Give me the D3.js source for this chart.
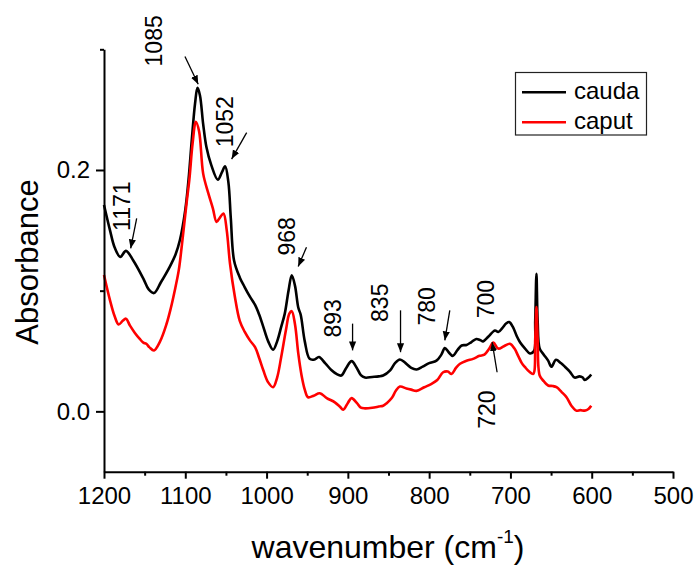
<!DOCTYPE html>
<html>
<head>
<meta charset="utf-8">
<script src="https://cdn.jsdelivr.net/npm/d3@7"></script>
<style>
  body { margin: 0; background: #fff; }
  svg text { font-family: "Liberation Sans", Arial, sans-serif; fill: #000; }
  .axis path, .axis line { stroke: #000; stroke-width: 2; }
</style>
</head>
<body>
<div id="chart"></div>
<script>
// wavenumber (cm-1) and absorbance
var caudaWn = [1200, 1192.6, 1187, 1180, 1173, 1164, 1151.6, 1145, 1138.5, 1130, 1119, 1112, 1106.6, 1100, 1096, 1092, 1088, 1085, 1082, 1078, 1074, 1068, 1060, 1055, 1051, 1047, 1044, 1040, 1033, 1027, 1020.5, 1014, 1009, 1004, 998, 992, 987, 982, 977.6, 973, 969, 965, 961, 958, 953, 947, 941, 935.6, 928, 920, 914, 908, 902, 895.4, 889, 884, 879, 870, 862, 856.6, 848, 842, 836, 829, 822, 815.5, 808, 800, 791, 785, 780.7, 776, 771, 765, 760, 754, 748, 742, 737, 733.6, 727, 719, 715, 710, 705, 701.5, 697, 692, 688, 682, 676, 671, 669.5, 668, 666.5, 664, 659, 653.6, 649.6, 644, 638, 633, 627, 621, 615, 611, 608.6, 604, 600.6];
var caudaAbs = [0.171, 0.150, 0.136, 0.128, 0.133, 0.125, 0.110, 0.101, 0.098, 0.107, 0.120, 0.130, 0.142, 0.167, 0.192, 0.225, 0.255, 0.268, 0.262, 0.238, 0.219, 0.204, 0.192, 0.198, 0.203, 0.190, 0.160, 0.125, 0.111, 0.103, 0.095, 0.088, 0.080, 0.070, 0.058, 0.051, 0.058, 0.070, 0.081, 0.100, 0.1128, 0.104, 0.086, 0.080, 0.058, 0.0435, 0.043, 0.045, 0.040, 0.034, 0.031, 0.0297, 0.036, 0.0416, 0.036, 0.030, 0.028, 0.0285, 0.029, 0.0297, 0.034, 0.040, 0.043, 0.040, 0.036, 0.0347, 0.037, 0.040, 0.042, 0.047, 0.0524, 0.049, 0.046, 0.051, 0.0546, 0.055, 0.0574, 0.060, 0.059, 0.058, 0.062, 0.067, 0.0657, 0.069, 0.073, 0.074, 0.070, 0.062, 0.057, 0.052, 0.048, 0.050, 0.075, 0.114, 0.075, 0.052, 0.047, 0.042, 0.037, 0.0427, 0.040, 0.037, 0.033, 0.028, 0.029, 0.028, 0.026, 0.028, 0.0305];

var caputWn = [1200, 1192.6, 1187, 1182, 1177, 1173, 1168, 1162, 1156, 1151.6, 1148, 1144, 1138.5, 1131, 1123, 1118, 1113, 1108, 1104.5, 1098, 1095, 1091, 1087, 1083, 1078, 1071.8, 1066, 1061.5, 1057, 1053, 1049, 1045, 1039, 1033, 1027, 1020.5, 1014, 1009, 1004, 998, 992, 987, 982, 976, 972, 969, 965, 961, 957, 953, 949, 942, 934.5, 926, 916, 910, 905.7, 900, 895.4, 889, 884, 879, 870, 862, 856.6, 852.5, 846, 841, 836, 828, 822, 815.5, 806, 797, 790, 782.8, 777, 772.5, 767, 762, 754, 746, 738, 732, 726, 721, 715, 708, 700.6, 695, 690.5, 686, 682, 677, 672, 669.5, 668, 666.5, 664, 659, 653.6, 648, 643.3, 637, 631, 625, 619, 614, 608.6, 604, 600.6];
var caputAbs = [0.113, 0.092, 0.079, 0.072, 0.075, 0.0768, 0.071, 0.065, 0.060, 0.057, 0.056, 0.053, 0.0505, 0.058, 0.0726, 0.085, 0.100, 0.117, 0.136, 0.175, 0.192, 0.222, 0.240, 0.232, 0.197, 0.181, 0.168, 0.157, 0.161, 0.164, 0.150, 0.1225, 0.095, 0.075, 0.066, 0.0588, 0.053, 0.044, 0.034, 0.024, 0.020, 0.028, 0.045, 0.068, 0.081, 0.083, 0.072, 0.048, 0.030, 0.018, 0.0117, 0.013, 0.015, 0.011, 0.0075, 0.004, 0.0014, 0.007, 0.011, 0.007, 0.003, 0.0025, 0.003, 0.004, 0.0047, 0.0066, 0.011, 0.017, 0.0205, 0.019, 0.018, 0.017, 0.020, 0.0228, 0.026, 0.0324, 0.033, 0.031, 0.036, 0.0394, 0.042, 0.0435, 0.046, 0.047, 0.052, 0.057, 0.052, 0.054, 0.056, 0.052, 0.046, 0.040, 0.0366, 0.033, 0.031, 0.060, 0.0865, 0.060, 0.0297, 0.025, 0.0214, 0.021, 0.020, 0.016, 0.0117, 0.0047, 0.0006, 0.001, 0.0006, 0.002, 0.0047];

var seriesNames = ["cauda", "caput"];
var seriesColors = ["#000000", "#ff0000"];

var xMajorTicks = [1200, 1100, 1000, 900, 800, 700, 600, 500];
var xMinorTicks = [1150, 1050, 950, 850, 750, 650, 550];
var yMajorTicks = [0.0, 0.2];
var yMinorTicks = [0.1, 0.3];

// peak labels (wavenumber, absorbance of the label centre) and their arrows
var peakLabels = ["1085", "1052", "1171", "968", "893", "835", "780", "700", "720"];
var labelWn = [1138.5, 1051.2, 1178.2, 975, 919, 860.6, 803.2, 730.5, 729.5];
var labelAbs = [0.307, 0.240, 0.170, 0.145, 0.077, 0.090, 0.087, 0.093, 0.0014];
var arrowFromWn = [1100.4, 1024.5, 1159.8, 950.9, 894.2, 835.2, 774.6, 716.4];
var arrowFromAbs = [0.294, 0.231, 0.160, 0.136, 0.0727, 0.0837, 0.0837, 0.0324];
var arrowToWn = [1084.1, 1043, 1167.2, 961.1, 894.2, 835.2, 780.7, 722.5];
var arrowToAbs = [0.271, 0.209, 0.135, 0.120, 0.0505, 0.049, 0.0588, 0.0574];

function drawGraph() {
    var width = 695, height = 565;
    var margin = { top: 49.3, right: 22, bottom: 93.3, left: 104 };

    var svg = d3.select("#chart")
        .append("svg")
        .attr("width", width)
        .attr("height", height);

    var x = d3.scaleLinear()
        .domain([1200, 500])
        .range([margin.left, width - margin.right]);

    var y = d3.scaleLinear()
        .domain([-0.05, 0.3])
        .range([height - margin.bottom, margin.top]);

    var series = [
        caudaWn.map((w, i) => ({ wn: w, abs: caudaAbs[i] })),
        caputWn.map((w, i) => ({ wn: w, abs: caputAbs[i] }))
    ];

    var line = d3.line()
        .x(d => x(d.wn))
        .y(d => y(d.abs))
        .curve(d3.curveCatmullRom.alpha(0.5));

    // black first, red drawn over it
    series.forEach((s, i) => {
        svg.append("path")
            .datum(s)
            .attr("fill", "none")
            .attr("stroke", seriesColors[i])
            .attr("stroke-width", 2.6)
            .attr("stroke-linejoin", "round")
            .attr("d", line);
    });

    // axes
    var xAxis = svg.append("g")
        .attr("class", "axis")
        .attr("transform", `translate(0,${y(-0.05)})`)
        .call(d3.axisBottom(x).tickValues(xMajorTicks).tickSize(7).tickSizeOuter(0).tickPadding(8).tickFormat(d3.format("d")));
    xAxis.selectAll("text").attr("font-size", "24px");

    svg.append("g")
        .attr("class", "axis")
        .attr("transform", `translate(0,${y(-0.05)})`)
        .call(d3.axisBottom(x).tickValues(xMinorTicks).tickSize(4).tickFormat(""))
        .select(".domain").remove();

    var yAxis = svg.append("g")
        .attr("class", "axis")
        .attr("transform", `translate(${x(1200)},0)`)
        .call(d3.axisLeft(y).tickValues(yMajorTicks).tickSize(8).tickSizeOuter(0).tickPadding(6).tickFormat(d3.format(".1f")));
    yAxis.selectAll("text").attr("font-size", "24px");

    svg.append("g")
        .attr("class", "axis")
        .attr("transform", `translate(${x(1200)},0)`)
        .call(d3.axisLeft(y).tickValues(yMinorTicks).tickSize(4).tickFormat(""))
        .select(".domain").remove();

    // axis titles
    svg.append("text")
        .attr("transform", `translate(38,262) rotate(-90)`)
        .attr("text-anchor", "middle")
        .attr("font-size", "31px")
        .text("Absorbance");

    var xt = svg.append("text")
        .attr("x", 388)
        .attr("y", 558)
        .attr("text-anchor", "middle")
        .attr("font-size", "32px");
    xt.append("tspan").text("wavenumber (cm");
    xt.append("tspan").attr("font-size", "19px").attr("dy", -15).text("-1");
    xt.append("tspan").attr("dy", 15).text(")");

    // arrows
    svg.append("defs").append("marker")
        .attr("id", "head")
        .attr("viewBox", "0 0 10 10")
        .attr("refX", 10).attr("refY", 5)
        .attr("markerWidth", 9).attr("markerHeight", 9)
        .attr("markerUnits", "userSpaceOnUse")
        .attr("orient", "auto")
        .append("path")
        .attr("d", "M0,1 L10,5 L0,9 Z")
        .attr("fill", "#000");

    arrowFromWn.forEach((w, i) => {
        svg.append("line")
            .attr("x1", x(w)).attr("y1", y(arrowFromAbs[i]))
            .attr("x2", x(arrowToWn[i])).attr("y2", y(arrowToAbs[i]))
            .attr("stroke", "#000")
            .attr("stroke-width", 1.3)
            .attr("marker-end", "url(#head)");
    });

    peakLabels.forEach((t, i) => {
        svg.append("text")
            .attr("transform", `translate(${x(labelWn[i])},${y(labelAbs[i])}) rotate(-90)`)
            .attr("text-anchor", "middle")
            .attr("dy", "0.36em")
            .attr("font-size", "23px")
            .text(t);
    });

    // legend
    var legend = svg.append("g");
    legend.append("rect")
        .attr("x", 515.5).attr("y", 72.5)
        .attr("width", 131).attr("height", 62.5)
        .attr("fill", "#fff")
        .attr("stroke", "#222")
        .attr("stroke-width", 1.2);
    seriesNames.forEach((name, i) => {
        var ly = 92.3 + i * 30;
        legend.append("line")
            .attr("x1", 522).attr("x2", 566)
            .attr("y1", ly).attr("y2", ly)
            .attr("stroke", seriesColors[i])
            .attr("stroke-width", 2.6);
        legend.append("text")
            .attr("x", 574)
            .attr("y", ly + 7)
            .attr("font-size", "24px")
            .text(name);
    });
}

window.onload = drawGraph;
</script>
</body>
</html>
